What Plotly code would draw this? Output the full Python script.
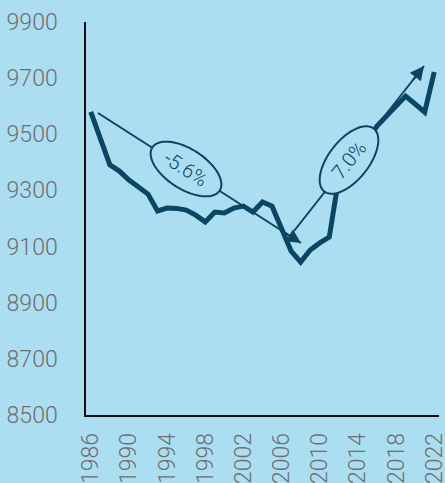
import math
import plotly.graph_objects as go

years = list(range(1986, 2023))
values = [9580, 9483, 9391, 9369, 9337, 9312, 9287, 9227, 9237, 9236,
          9230, 9212, 9188, 9223, 9220, 9237, 9244, 9223, 9259, 9244,
          9159, 9084, 9045, 9088, 9113, 9134, 9345, 9385, 9440, 9480,
          9529, 9565, 9601, 9636, 9608, 9579, 9722]
tick_years = list(range(1986, 2023, 4))
y_ticks = [8500, 8700, 8900, 9100, 9300, 9500, 9700, 9900]
labels = ["-5.6%", "7.0%"]

W, H = 445, 483
ML, MR, MT, MB = 86, 6, 22, 68
X0, X1 = 1985.5, 2022.5
Y0, Y1 = 8500, 9900
pw, ph = W - ML - MR, H - MT - MB
sx = pw / (X1 - X0)
sy = ph / (Y1 - Y0)

BG = "#ABDEF1"
NAVY = "#0A4563"
FONT = "Roboto, Liberation Sans, Arial"


def to_data(px, py):
    return X0 + (px - ML) / sx, Y1 - (py - MT) / sy


def ellipse_path(cx, cy, a, b, ang_deg, n=90):
    t = math.radians(ang_deg)
    pts = []
    for i in range(n):
        u = 2 * math.pi * i / n
        ex, ey = a * math.cos(u), b * math.sin(u)
        px = cx + ex * math.cos(t) - ey * math.sin(t)
        py = cy + ex * math.sin(t) + ey * math.cos(t)
        dx, dy = to_data(px, py)
        pts.append(f"{dx:.4f},{dy:.3f}")
    return "M " + " L ".join(pts) + " Z"


# annotation geometry (pixel space)
arrows = [
    dict(start=(98, 113), end=(301, 243), center=(186, 169), text=labels[0]),
    dict(start=(294, 231), end=(424, 66), center=(349, 160), text=labels[1]),
]

fig = go.Figure()
fig.add_trace(go.Scatter(x=years, y=values, mode="lines",
                         line=dict(color=NAVY, width=5), hoverinfo="skip"))

shapes = []
annotations = []
for a in arrows:
    (x0, y0), (x1, y1) = a["start"], a["end"]
    ang = math.degrees(math.atan2(y1 - y0, x1 - x0))
    d0, d1 = to_data(x0, y0), to_data(x1, y1)
    shapes.append(dict(type="line", xref="x", yref="y", x0=d0[0], y0=d0[1],
                       x1=d1[0], y1=d1[1], line=dict(color=NAVY, width=2),
                       layer="above"))
    L = math.hypot(x1 - x0, y1 - y0)
    bx = x1 - (x1 - x0) / L * 20
    by = y1 - (y1 - y0) / L * 20
    db = to_data(bx, by)
    annotations.append(dict(x=d1[0], y=d1[1], ax=db[0], ay=db[1],
                            xref="x", yref="y", axref="x", ayref="y",
                            text="", showarrow=True, arrowhead=2,
                            arrowsize=1.4, arrowwidth=2, arrowcolor=NAVY,
                            standoff=0, startstandoff=0))
    cx, cy = a["center"]
    shapes.append(dict(type="path", xref="x", yref="y",
                       path=ellipse_path(cx, cy, 40, 20, ang),
                       fillcolor=BG, line=dict(color=NAVY, width=2),
                       layer="above"))
    dc = to_data(cx, cy)
    annotations.append(dict(x=dc[0], y=dc[1], xref="x", yref="y",
                            text=a["text"], showarrow=False, textangle=ang,
                            font=dict(family=FONT, size=20, weight=300,
                                      color=NAVY)))

fig.update_layout(
    width=W, height=H,
    margin=dict(l=ML, r=MR, t=MT, b=MB, pad=0, autoexpand=False),
    paper_bgcolor=BG, plot_bgcolor=BG,
    showlegend=False,
    shapes=shapes, annotations=annotations,
    font=dict(family=FONT, color="#6e6e6e", size=23, weight=300),
    xaxis=dict(range=[X0, X1], tickvals=tick_years,
               ticktext=[str(y) for y in tick_years], tickangle=-90,
               showgrid=False, zeroline=False, showline=True,
               linecolor="#111111", linewidth=1.5, ticks="",
               ticklabelstandoff=7, ticklabeloverflow="allow",
               automargin=False, fixedrange=True),
    yaxis=dict(range=[Y0, Y1], tickvals=y_ticks,
               ticktext=[str(v) for v in y_ticks],
               showgrid=False, zeroline=False, showline=True,
               linecolor="#111111", linewidth=1.5, ticks="",
               ticklabelstandoff=22, ticklabeloverflow="allow",
               automargin=False, fixedrange=True),
)

fig.write_html(
    "out.html",
    config={"displayModeBar": False},
    post_script="document.body.style.margin='0';document.body.style.overflow='hidden';"
                "document.body.style.background='" + BG + "';",
)
